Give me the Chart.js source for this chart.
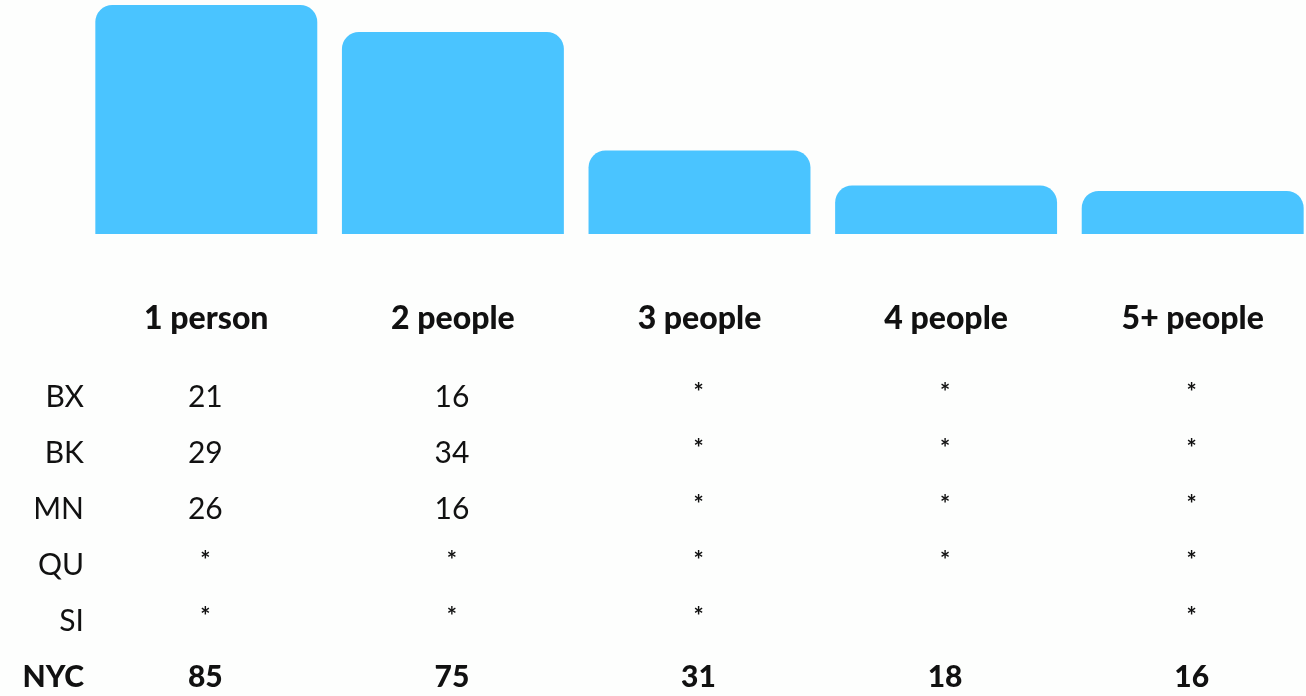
<!DOCTYPE html>
<html>
<head>
<meta charset="utf-8">
<script src="https://cdn.jsdelivr.net/npm/chart.js@4/dist/chart.umd.min.js"></script>
<style>
  html, body { margin: 0; padding: 0; background: #fdfefd; overflow: hidden; }
  #wrap { width: 1316px; height: 696px; }
</style>
</head>
<body>
<div id="wrap"><canvas id="canvas"></canvas></div>
<script>
// household size categories
var categories = ['1 person', '2 people', '3 people', '4 people', '5+ people'];
// borough rows ('*' = suppressed, '' = no data)
var rowLabels = ['BX', 'BK', 'MN', 'QU', 'SI'];
var bx = [21, 16, '*', '*', '*'];
var bk = [29, 34, '*', '*', '*'];
var mn = [26, 16, '*', '*', '*'];
var qu = ['*', '*', '*', '*', '*'];
var si = ['*', '*', '*', '', '*'];
// citywide totals, also the bar heights
var nyc = [85, 75, 31, 18, 16];

var rows = [bx, bk, mn, qu, si];
var FONT = 'Lato, "Noto Sans", sans-serif';

var tablePlugin = {
    id: 'tablePlugin',
    afterDraw: function(chart){
        var ctx = chart.ctx;
        var x = chart.scales.x;
        ctx.save();
        ctx.fillStyle = '#111';
        ctx.textBaseline = 'middle';
        ctx.textAlign = 'center';
        // headers
        ctx.font = '900 32px ' + FONT;
        categories.forEach(function(c, i){
            ctx.fillText(c, x.getPixelForValue(i), 319);
        });
        // borough rows
        for (var r = 0; r < rows.length; r++) {
            var y = 397 + r * 56;
            ctx.textAlign = 'right';
            ctx.font = '30px ' + FONT;
            ctx.fillText(rowLabels[r], 84, y);
            ctx.textAlign = 'center';
            rows[r].forEach(function(v, i){
                if (v === '*') {
                    ctx.font = 'bold 24px ' + FONT;
                    ctx.fillText('*', x.getPixelForValue(i) - 1, y - 4);
                } else if (v !== '') {
                    ctx.font = '30px ' + FONT;
                    ctx.fillText(String(v), x.getPixelForValue(i) - 1, y);
                }
            });
        }
        // NYC row
        var yn = 397 + 5 * 56;
        ctx.font = '900 30px ' + FONT;
        ctx.textAlign = 'right';
        ctx.fillText('NYC', 84, yn);
        ctx.textAlign = 'center';
        nyc.forEach(function(v, i){
            ctx.fillText(String(v), x.getPixelForValue(i) - 1, yn);
        });
        ctx.restore();
    }
};

var ctx = document.getElementById('canvas').getContext('2d');
var myChart = new Chart(ctx, {
    type: 'bar',
    data: {
        labels: categories,
        datasets: [{
            data: nyc,
            backgroundColor: '#4ac4ff',
            borderRadius: 17,
            borderSkipped: 'bottom',
            categoryPercentage: 1,
            barPercentage: 0.9
        }]
    },
    options: {
        responsive: true,
        maintainAspectRatio: false,
        animation: false,
        layout: { padding: { left: 83, right: 0, top: 5, bottom: 462 } },
        plugins: { legend: { display: false }, tooltip: { enabled: false } },
        scales: {
            x: { display: false },
            y: { display: false, min: 0, max: 85 }
        }
    },
    plugins: [tablePlugin]
});
</script>
</body>
</html>
